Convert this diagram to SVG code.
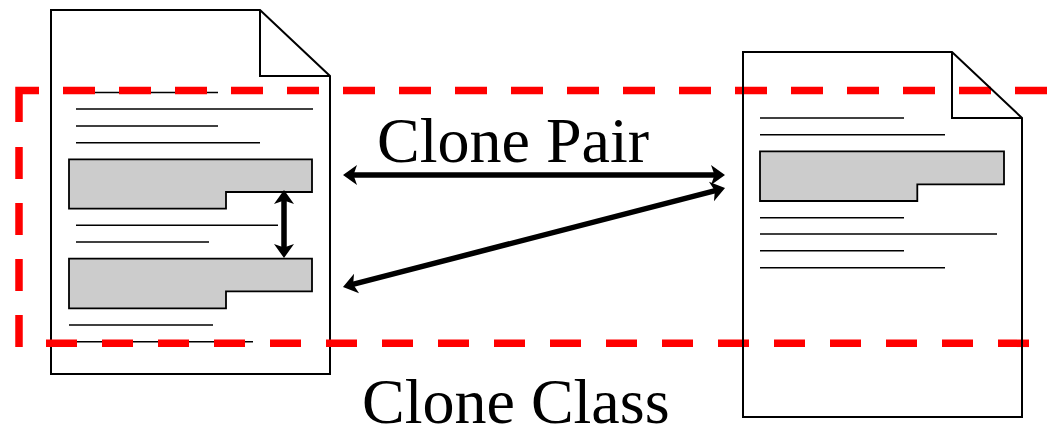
<svg xmlns="http://www.w3.org/2000/svg" width="1053" height="432" viewBox="0 0 1053 432">
  <style>
    .page { fill: #FFFFFF; stroke: #000000; stroke-width: 2; stroke-linejoin: miter; }
    .outline { fill: none; stroke: #000000; stroke-width: 2; }
    .txt { stroke: #000000; stroke-width: 1.6; fill: none; }
    .block { fill: #CCCCCC; stroke: #000000; stroke-width: 1.8; }
    .bound { fill: none; stroke: #FF0000; stroke-width: 7.5; }
    .link { fill: none; stroke: #000000; stroke-width: 5.5; marker-start: url(#head); marker-end: url(#head); }
    .label { font-family: "Liberation Serif", "Times New Roman", serif; font-size: 64px; fill: #000000; }
  </style>
  <defs>
    <marker id="head" markerUnits="userSpaceOnUse" viewBox="-8 -12 18 24" refX="0" refY="0" markerWidth="18" markerHeight="24" orient="auto-start-reverse">
      <path d="M-5,-10 L9,0 L-5,10 L-1.5,0 Z" fill="#000000"/>
    </marker>
  </defs>

  <!-- source file with two cloned fragments -->
  <g id="file-left">
    <path class="page" d="M51,10 H260 L330,76 V374 H51 Z"/>
    <path class="outline" d="M260,10 V76 H330"/>
    <line class="txt" x1="76" y1="92.5" x2="218" y2="92.5"/>
    <line class="txt" x1="76" y1="109" x2="313" y2="109"/>
    <line class="txt" x1="76" y1="126" x2="218" y2="126"/>
    <line class="txt" x1="76" y1="142.7" x2="260" y2="142.7"/>
    <path class="block" d="M69,159.3 H312 V192 H226 V208.7 H69 Z"/>
    <line class="txt" x1="76" y1="225.3" x2="278" y2="225.3"/>
    <line class="txt" x1="76" y1="242" x2="209" y2="242"/>
    <path class="block" d="M69,258.7 H312 V291.3 H226 V308.3 H69 Z"/>
    <line class="txt" x1="69" y1="325" x2="213" y2="325"/>
    <line class="txt" x1="69" y1="341.7" x2="253" y2="341.7"/>
  </g>

  <!-- clone class boundary (open on the right) -->
  <g id="clone-class">
    <path class="bound" d="M19,122 V90.5 H39"/>
    <line class="bound" x1="63" y1="90.5" x2="1047" y2="90.5" stroke-dasharray="32 24"/>
    <line class="bound" x1="19" y1="347" x2="19" y2="146" stroke-dasharray="32 24"/>
    <line class="bound" x1="46" y1="343.3" x2="1029" y2="343.3" stroke-dasharray="31 25"/>
  </g>

  <!-- second file with one cloned fragment -->
  <g id="file-right">
    <path class="outline" d="M743,52 H952 L1022,118 V417 H743 Z"/>
    <path class="outline" d="M952,52 V118 H1022"/>
    <line class="txt" x1="760" y1="118" x2="904" y2="118"/>
    <line class="txt" x1="760" y1="134.7" x2="945" y2="134.7"/>
    <path class="block" d="M760,151.3 H1004 V184.3 H917.3 V201 H760 Z"/>
    <line class="txt" x1="760" y1="217.7" x2="904" y2="217.7"/>
    <line class="txt" x1="760" y1="234" x2="997" y2="234"/>
    <line class="txt" x1="760" y1="250.7" x2="904" y2="250.7"/>
    <line class="txt" x1="760" y1="267.7" x2="945" y2="267.7"/>
  </g>

  <!-- clone pair relations -->
  <g id="connectors">
    <line class="link" x1="352" y1="175" x2="716" y2="175"/>
    <line class="link" x1="351.7" y1="284.7" x2="716.3" y2="190.3"/>
    <line class="link" x1="284" y1="199" x2="284" y2="249"/>
  </g>

  <g id="labels">
    <text class="label" x="377" y="162">Clone Pair</text>
    <text class="label" x="362" y="423">Clone Class</text>
  </g>
</svg>
